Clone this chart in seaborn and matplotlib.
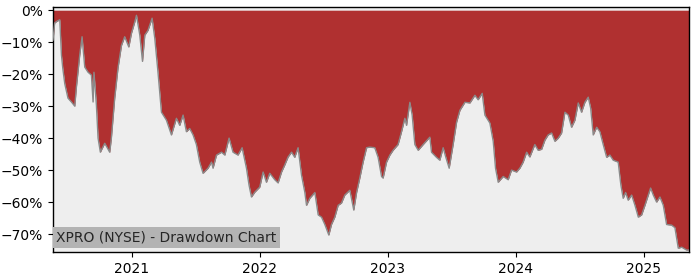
import numpy as np
import pandas as pd
import matplotlib
matplotlib.use("Agg")
import matplotlib.pyplot as plt
import matplotlib.dates as mdates
from matplotlib.ticker import PercentFormatter
import seaborn as sns

title_text = "XPRO (NYSE) - Drawdown Chart"

# decimal-year time stamps
years = [
    2020.385, 2020.398, 2020.414, 2020.438, 2020.451, 2020.461, 2020.477, 2020.502,
    2020.529, 2020.555, 2020.568, 2020.594, 2020.612, 2020.633, 2020.659, 2020.685,
    2020.698, 2020.705, 2020.724, 2020.737, 2020.755, 2020.789, 2020.828, 2020.841,
    2020.867, 2020.893, 2020.920, 2020.945, 2020.977, 2020.998, 2021.023, 2021.037,
    2021.063, 2021.084, 2021.102, 2021.127, 2021.159, 2021.180, 2021.205, 2021.232,
    2021.271, 2021.310, 2021.349, 2021.375, 2021.401, 2021.427, 2021.453, 2021.479,
    2021.505, 2021.531, 2021.557, 2021.596, 2021.623, 2021.635, 2021.662, 2021.701,
    2021.727, 2021.760, 2021.791, 2021.830, 2021.862, 2021.896, 2021.916, 2021.935,
    2021.961, 2022.000, 2022.026, 2022.052, 2022.078, 2022.117, 2022.143, 2022.170,
    2022.195, 2022.221, 2022.248, 2022.273, 2022.299, 2022.326, 2022.352, 2022.365,
    2022.391, 2022.430, 2022.456, 2022.482, 2022.508, 2022.539, 2022.560, 2022.586,
    2022.612, 2022.638, 2022.664, 2022.703, 2022.734, 2022.756, 2022.781, 2022.807,
    2022.834, 2022.859, 2022.898, 2022.924, 2022.951, 2022.963, 2022.990, 2023.016,
    2023.041, 2023.080, 2023.107, 2023.133, 2023.146, 2023.172, 2023.190, 2023.211,
    2023.237, 2023.276, 2023.328, 2023.341, 2023.380, 2023.406, 2023.432, 2023.453,
    2023.479, 2023.510, 2023.537, 2023.563, 2023.602, 2023.641, 2023.680, 2023.705,
    2023.737, 2023.758, 2023.797, 2023.823, 2023.841, 2023.862, 2023.901, 2023.940,
    2023.966, 2024.005, 2024.031, 2024.057, 2024.084, 2024.109, 2024.148, 2024.174,
    2024.201, 2024.227, 2024.252, 2024.279, 2024.305, 2024.331, 2024.357, 2024.383,
    2024.409, 2024.435, 2024.461, 2024.487, 2024.513, 2024.539, 2024.565, 2024.584,
    2024.604, 2024.631, 2024.656, 2024.682, 2024.709, 2024.734, 2024.760, 2024.799,
    2024.820, 2024.838, 2024.857, 2024.877, 2024.904, 2024.930, 2024.956, 2024.982,
    2025.008, 2025.034, 2025.052, 2025.073, 2025.099, 2025.125, 2025.151, 2025.177,
    2025.216, 2025.242, 2025.268, 2025.295, 2025.334, 2025.352,
]

# drawdown in percent
drawdown = [
    -9.4, -4.0, -3.5, -3.0, -14.0, -18.0, -23.0, -27.5,
    -28.7, -30.0, -24.0, -14.0, -8.3, -17.8, -19.4, -20.3,
    -28.7, -19.4, -29.7, -40.0, -44.4, -41.6, -44.4, -40.0,
    -27.5, -18.0, -11.0, -8.3, -11.5, -7.2, -3.8, -1.6,
    -7.8, -16.0, -7.8, -6.3, -2.5, -8.8, -19.4, -31.9,
    -34.4, -39.0, -33.8, -36.0, -32.8, -38.0, -37.0, -39.0,
    -42.0, -47.5, -51.0, -49.4, -47.5, -49.4, -45.3, -44.4,
    -45.3, -40.0, -44.4, -45.3, -43.0, -49.4, -54.7, -58.4,
    -56.9, -55.3, -50.6, -53.8, -51.0, -53.0, -54.0, -50.6,
    -48.4, -45.9, -44.4, -46.0, -43.0, -51.6, -57.0, -61.0,
    -58.8, -57.0, -64.0, -64.7, -67.0, -70.3, -67.0, -64.7,
    -61.0, -60.3, -57.8, -56.3, -62.5, -57.0, -52.5, -47.5,
    -43.0, -42.8, -43.0, -46.0, -52.0, -52.5, -47.5, -45.3,
    -43.8, -42.0, -38.0, -33.8, -36.0, -28.8, -32.8, -42.0,
    -43.8, -42.0, -39.7, -44.4, -46.0, -46.9, -43.0, -46.0,
    -49.4, -42.0, -35.0, -31.3, -28.8, -29.0, -26.6, -28.0,
    -26.0, -32.8, -35.3, -41.0, -49.4, -53.8, -52.0, -53.0,
    -50.0, -50.6, -49.4, -47.5, -44.4, -45.9, -42.0, -43.8,
    -43.5, -40.6, -39.0, -38.4, -41.0, -40.0, -38.4, -31.9,
    -32.8, -36.6, -34.4, -29.0, -31.9, -28.8, -27.2, -30.6,
    -39.0, -36.6, -38.0, -42.0, -46.0, -45.3, -46.9, -47.5,
    -54.7, -58.8, -57.0, -59.4, -57.8, -61.0, -64.7, -64.0,
    -61.0, -57.8, -55.6, -57.8, -60.0, -58.4, -61.0, -67.0,
    -67.2, -68.0, -74.4, -74.1, -75.0, -75.0,
]

yr = np.array(years)
dates = pd.to_datetime("2021-01-01") + pd.to_timedelta((yr - 2021.0) * 365.25, unit="D")
df = pd.DataFrame({"date": dates, "dd": drawdown})

sns.set_style("ticks")
plt.rcParams["font.family"] = ["DejaVu Sans"]

fig = plt.figure(figsize=(7, 2.8), dpi=100)
ax = fig.add_axes([0.0757, 0.1, 0.9086, 0.875])
ax.set_facecolor("#eeeeee")

ax.fill_between(df["date"], df["dd"], 0, color="#b03030", linewidth=0, zorder=2)
sns.lineplot(data=df, x="date", y="dd", ax=ax, color="#8a8a8a", linewidth=1.0, zorder=3)

ax.set_xlim(df["date"].min(), df["date"].max())
ax.set_ylim(-75.6, 1.0)
ax.set_yticks([0, -10, -20, -30, -40, -50, -60, -70])
ax.yaxis.set_major_formatter(PercentFormatter(decimals=0))
ax.xaxis.set_major_locator(mdates.YearLocator())
ax.xaxis.set_major_formatter(mdates.DateFormatter("%Y"))
ax.set_xlabel("")
ax.set_ylabel("")
ax.tick_params(labelsize=10, colors="black")
for s in ax.spines.values():
    s.set_color("black")
    s.set_linewidth(1.0)

ax.text(0.005, 0.03, title_text, transform=ax.transAxes, fontsize=10,
        ha="left", va="bottom", zorder=5,
        bbox=dict(facecolor="#b3b3b3", edgecolor="none", pad=2.5))

fig.savefig("out.png", dpi=100)
